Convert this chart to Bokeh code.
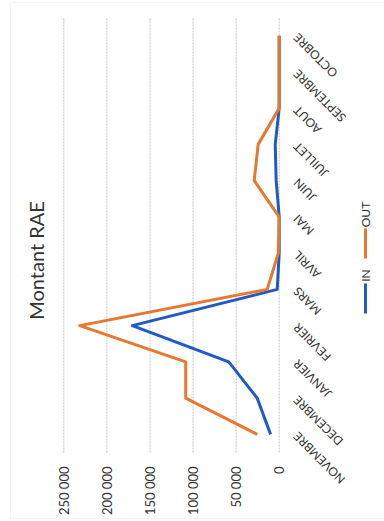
import math
from bokeh.plotting import figure
from bokeh.models import Range1d, Label, LabelSet, BoxAnnotation, ColumnDataSource
from bokeh.core.properties import value
from bokeh.embed import file_html
from bokeh.resources import INLINE

months = ["NOVEMBRE", "DECEMBRE", "JANVIER", "FEVRIER", "MARS", "AVRIL",
          "MAI", "JUIN", "JUILLET", "AOUT", "SEPTEMBRE", "OCTOBRE"]
in_values = [10000, 25500, 58500, 170500, 2300, 0, 0, 3500, 4600, 0, 0, 0]
out_values = [25500, 108500, 108500, 231500, 13900, 1000, 0, 29000, 24400, 0, 0, 0]
tick_values = [0, 50000, 100000, 150000, 200000, 250000]
tick_labels = ["0", "50 000", "100 000", "150 000", "200 000", "250 000"]
title_text = "Montant RAE"
series_names = ["IN", "OUT"]

BLUE = "#1F5BC4"
ORANGE = "#E8782F"
FONT = "Lato"
TXT = "#333333"

W, H = 384, 521
# the chart is shown rotated a quarter turn: values grow to the left, months go upward
pos = list(range(len(months)))

p = figure(width=W, height=H, output_backend="svg", toolbar_location=None,
           x_range=Range1d(323468, -122215), y_range=Range1d(-2.4034, 11.969),
           x_axis_location=None, y_axis_location=None, min_border=0)
p.outline_line_color = None
p.background_fill_color = "white"
p.border_fill_color = "white"
p.xgrid.grid_line_color = None
p.ygrid.grid_line_color = None

# chart border
p.add_layout(BoxAnnotation(left=10, right=W + 10, bottom=3, top=H - 2,
                           left_units="screen", right_units="screen", top_units="screen", bottom_units="screen",
                           fill_alpha=0, line_color="#dcdcdc", line_width=1))

# value grid lines
n = len(months)
p.segment(x0=tick_values, y0=[pos[0] - 0.5] * len(tick_values),
          x1=tick_values, y1=[pos[-1] + 0.5] * len(tick_values),
          line_color="#c4c4c4", line_width=1, line_dash="2 1")

p.line(in_values, pos, line_color=BLUE, line_width=3, line_join="round")
p.line(out_values, pos, line_color=ORANGE, line_width=3, line_join="round")

# value tick labels (below the grid, rotated)
tick_src = ColumnDataSource(dict(x=tick_values, y=[55] * len(tick_values), t=tick_labels))
p.add_layout(LabelSet(x="x", y="y", text="t", source=tick_src, y_units="screen",
                      angle=math.pi / 2, text_align="right", text_baseline="middle",
                      text_font=value(FONT), text_font_size=value("13px"), text_color=TXT))

# month labels (right of the grid, rotated)
month_src = ColumnDataSource(dict(x=[295] * n, y=pos, t=months))
p.add_layout(LabelSet(x="x", y="y", text="t", source=month_src, x_units="screen",
                      angle=3 * math.pi / 4, text_align="right", text_baseline="middle",
                      text_font=value(FONT), text_font_size=value("12px"), text_color=TXT))

# title (rotated)
p.add_layout(Label(x=35, y=261, x_units="screen", y_units="screen", text=title_text,
                   angle=math.pi / 2, text_align="center", text_baseline="middle",
                   text_font=FONT, text_font_size="20px", text_color=TXT))

# legend (rotated)
p.add_layout(BoxAnnotation(left=363.5, right=366.5, bottom=208, top=238,
                           left_units="screen", right_units="screen", top_units="screen", bottom_units="screen",
                           fill_color=BLUE, fill_alpha=1, line_color=None))
p.add_layout(Label(x=365, y=246, x_units="screen", y_units="screen", text=series_names[0],
                   angle=math.pi / 2, text_align="center", text_baseline="middle",
                   text_font=FONT, text_font_size="12px", text_color=TXT))
p.add_layout(BoxAnnotation(left=363.5, right=366.5, bottom=263, top=293,
                           left_units="screen", right_units="screen", top_units="screen", bottom_units="screen",
                           fill_color=ORANGE, fill_alpha=1, line_color=None))
p.add_layout(Label(x=365, y=307, x_units="screen", y_units="screen", text=series_names[1],
                   angle=math.pi / 2, text_align="center", text_baseline="middle",
                   text_font=FONT, text_font_size="12px", text_color=TXT))

open("out.html", "w").write(file_html(p, INLINE))
